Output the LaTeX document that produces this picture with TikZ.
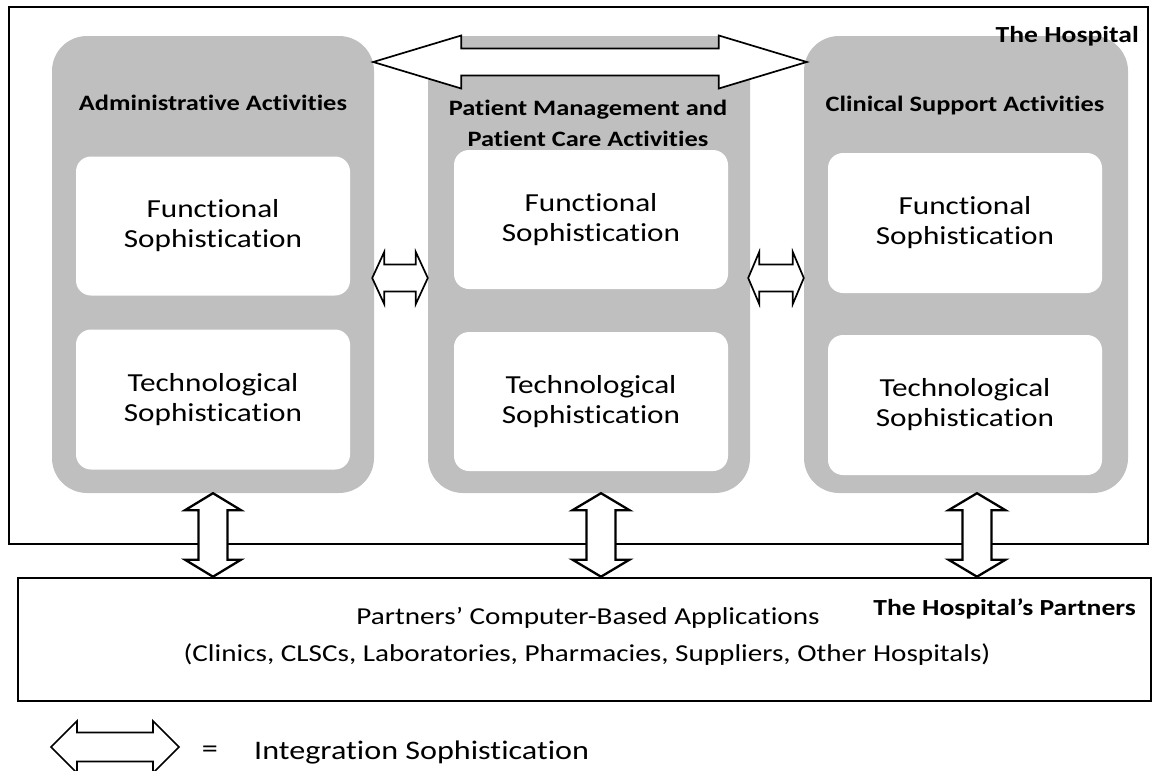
\documentclass[tikz,border=0pt]{standalone}
\usepackage{fontspec}
\setmainfont{Carlito}[FakeStretch=1.2, Ligatures=NoCommon]
\usetikzlibrary{calc}
\newcommand{\Ti}{t\kern0pt i}
\definecolor{colgray}{RGB}{191,191,191}
\tikzset{
  frame/.style={draw=black, line width=2.6pt, inner sep=0pt},
  col/.style={fill=colgray, rounded corners=35pt, draw=none, inner sep=0pt},
  innerbox/.style={fill=white, rounded corners=15pt, draw=none, inner sep=0pt, align=center,
    font=\fontsize{26}{30}\selectfont},
  barrow/.style={draw=black, fill=white, line width=1.7pt, line join=miter},
  varrowst/.style={draw=black, fill=white, line width=2.3pt, line join=miter},
  bodytext/.style={font=\fontsize{26.8}{30}\selectfont, inner sep=0pt},
  partext/.style={font=\fontsize{24.3}{30}\selectfont, inner sep=0pt},
  headtext/.style={font=\bfseries\fontsize{22}{31}\selectfont, align=center, inner sep=0pt},
  lbltext/.style={font=\bfseries\fontsize{23}{28}\selectfont, anchor=base east, inner sep=0pt},
}
% horizontal double block arrow: #2 left tip, #3 right tip, #4 head length, #5 head half-height, #6 shaft half-height
\newcommand{\harrow}[6][barrow]{%
  \draw[#1] (#2) -- ([shift={(#4,-#5)}]#2) -- ([shift={(#4,-#6)}]#2) -- ([shift={(-#4,-#6)}]#3)
    -- ([shift={(-#4,-#5)}]#3) -- (#3) -- ([shift={(-#4,#5)}]#3) -- ([shift={(-#4,#6)}]#3)
    -- ([shift={(#4,#6)}]#2) -- ([shift={(#4,#5)}]#2) -- cycle;}
% vertical double block arrow: #2 top tip, #3 bottom tip
\newcommand{\varrow}[6][varrowst]{%
  \draw[#1] (#2) -- ([shift={(#5,#4)}]#2) -- ([shift={(#6,#4)}]#2) -- ([shift={(#6,-#4)}]#3)
    -- ([shift={(#5,-#4)}]#3) -- (#3) -- ([shift={(-#5,-#4)}]#3) -- ([shift={(-#6,-#4)}]#3)
    -- ([shift={(-#6,#4)}]#2) -- ([shift={(-#5,#4)}]#2) -- cycle;}
\begin{document}
\begin{tikzpicture}[x=1pt,y=-1pt]
\useasboundingbox (0,0) rectangle (1154,771);

% The hospital frame
\node[frame, minimum width=1139pt, minimum height=537pt] (hosp) at (578.5,275.5) {};

% columns
\node[col, minimum width=322pt, minimum height=457pt] (colA) at (213,264.5) {};
\node[col, minimum width=322pt, minimum height=457pt] (colB) at (589,264.5) {};
\node[col, minimum width=324pt, minimum height=457pt] (colC) at (966,264.5) {};

\node[lbltext] (hosplbl) at (1139,42) {The Hospital};

% column headings
\node[headtext, anchor=base] (hA) at (213,110) {Administra\Ti ve Ac\Ti vi\Ti es};
\node[headtext, anchor=base] (hB1) at (588,115) {Pa\Ti ent Management and};
\node[headtext, anchor=base] (hB2) at (588,146) {Pa\Ti ent Care Ac\Ti vi\Ti es};
\node[headtext, anchor=base] (hC) at (965,111) {Clinical Support Ac\Ti vi\Ti es};

% inner boxes
\node[innerbox, minimum width=274pt, minimum height=139pt] (aF) at (213,226) {Func\Ti onal\\Sophis\Ti cation};
\node[innerbox, minimum width=274pt, minimum height=140pt] (aT) at (213,399.5) {Technological\\Sophis\Ti cation};
\node[innerbox, minimum width=274pt, minimum height=139pt] (bF) at (591,219.5) {Func\Ti onal\\Sophis\Ti cation};
\node[innerbox, minimum width=274pt, minimum height=139pt] (bT) at (591,401.5) {Technological\\Sophis\Ti cation};
\node[innerbox, minimum width=274pt, minimum height=140pt] (cF) at (965,223) {Func\Ti onal\\Sophis\Ti cation};
\node[innerbox, minimum width=274pt, minimum height=140pt] (cT) at (965,405) {Technological\\Sophis\Ti cation};

% arrows between columns
\coordinate (t1) at ($(colA.east)+(-1,-202.5)$);
\coordinate (t2) at ($(colC.west)+(3,-202.5)$);
\harrow{t1}{t2}{88}{26.5}{13.5}
\coordinate (s1) at ($(colA.east)+(-2,13.5)$);
\coordinate (s2) at ($(colB.west)+(0,13.5)$);
\harrow{s1}{s2}{12}{26}{13.5}
\coordinate (s3) at ($(colB.east)+(-2,13.5)$);
\coordinate (s4) at ($(colC.west)+(0,13.5)$);
\harrow{s3}{s4}{11}{26}{13.5}

% partners frame
\node[frame, minimum width=1133pt, minimum height=123pt] (partners) at (584.5,639.5) {};
\node[partext] (p1) at (588,618) {Partners’ Computer-Based Applica\Ti ons};
\node[partext] (p2) at (587,655) {(Clinics, CLSCs, Laboratories, Pharmacies, Suppliers, Other Hospitals)};
\node[lbltext] (partlbl) at (1136,615) {The Hospital’s Partners};

% vertical arrows to partners
\coordinate (vA) at (colA.south);
\coordinate (vB) at ([xshift=12pt]colB.south);
\coordinate (vC) at ([xshift=11pt]colC.south);
\coordinate (vA2) at (vA |- partners.north);
\coordinate (vB2) at (vB |- partners.north);
\coordinate (vC2) at (vC |- partners.north);
\varrow{vA}{vA2}{17}{28}{14.5}
\varrow{vB}{vB2}{17}{28.5}{14.5}
\varrow{vC}{vC2}{17}{28.5}{14.5}

% legend
\coordinate (l1) at (51,747);
\coordinate (l2) at (179,747);
\harrow{l1}{l2}{26}{26}{14.5}
\node[bodytext] (eq) at (210,752) {=};
\node[bodytext, anchor=west] (legtxt) at (254,752) {Integra\Ti on Sophis\Ti cation};
\end{tikzpicture}
\end{document}
